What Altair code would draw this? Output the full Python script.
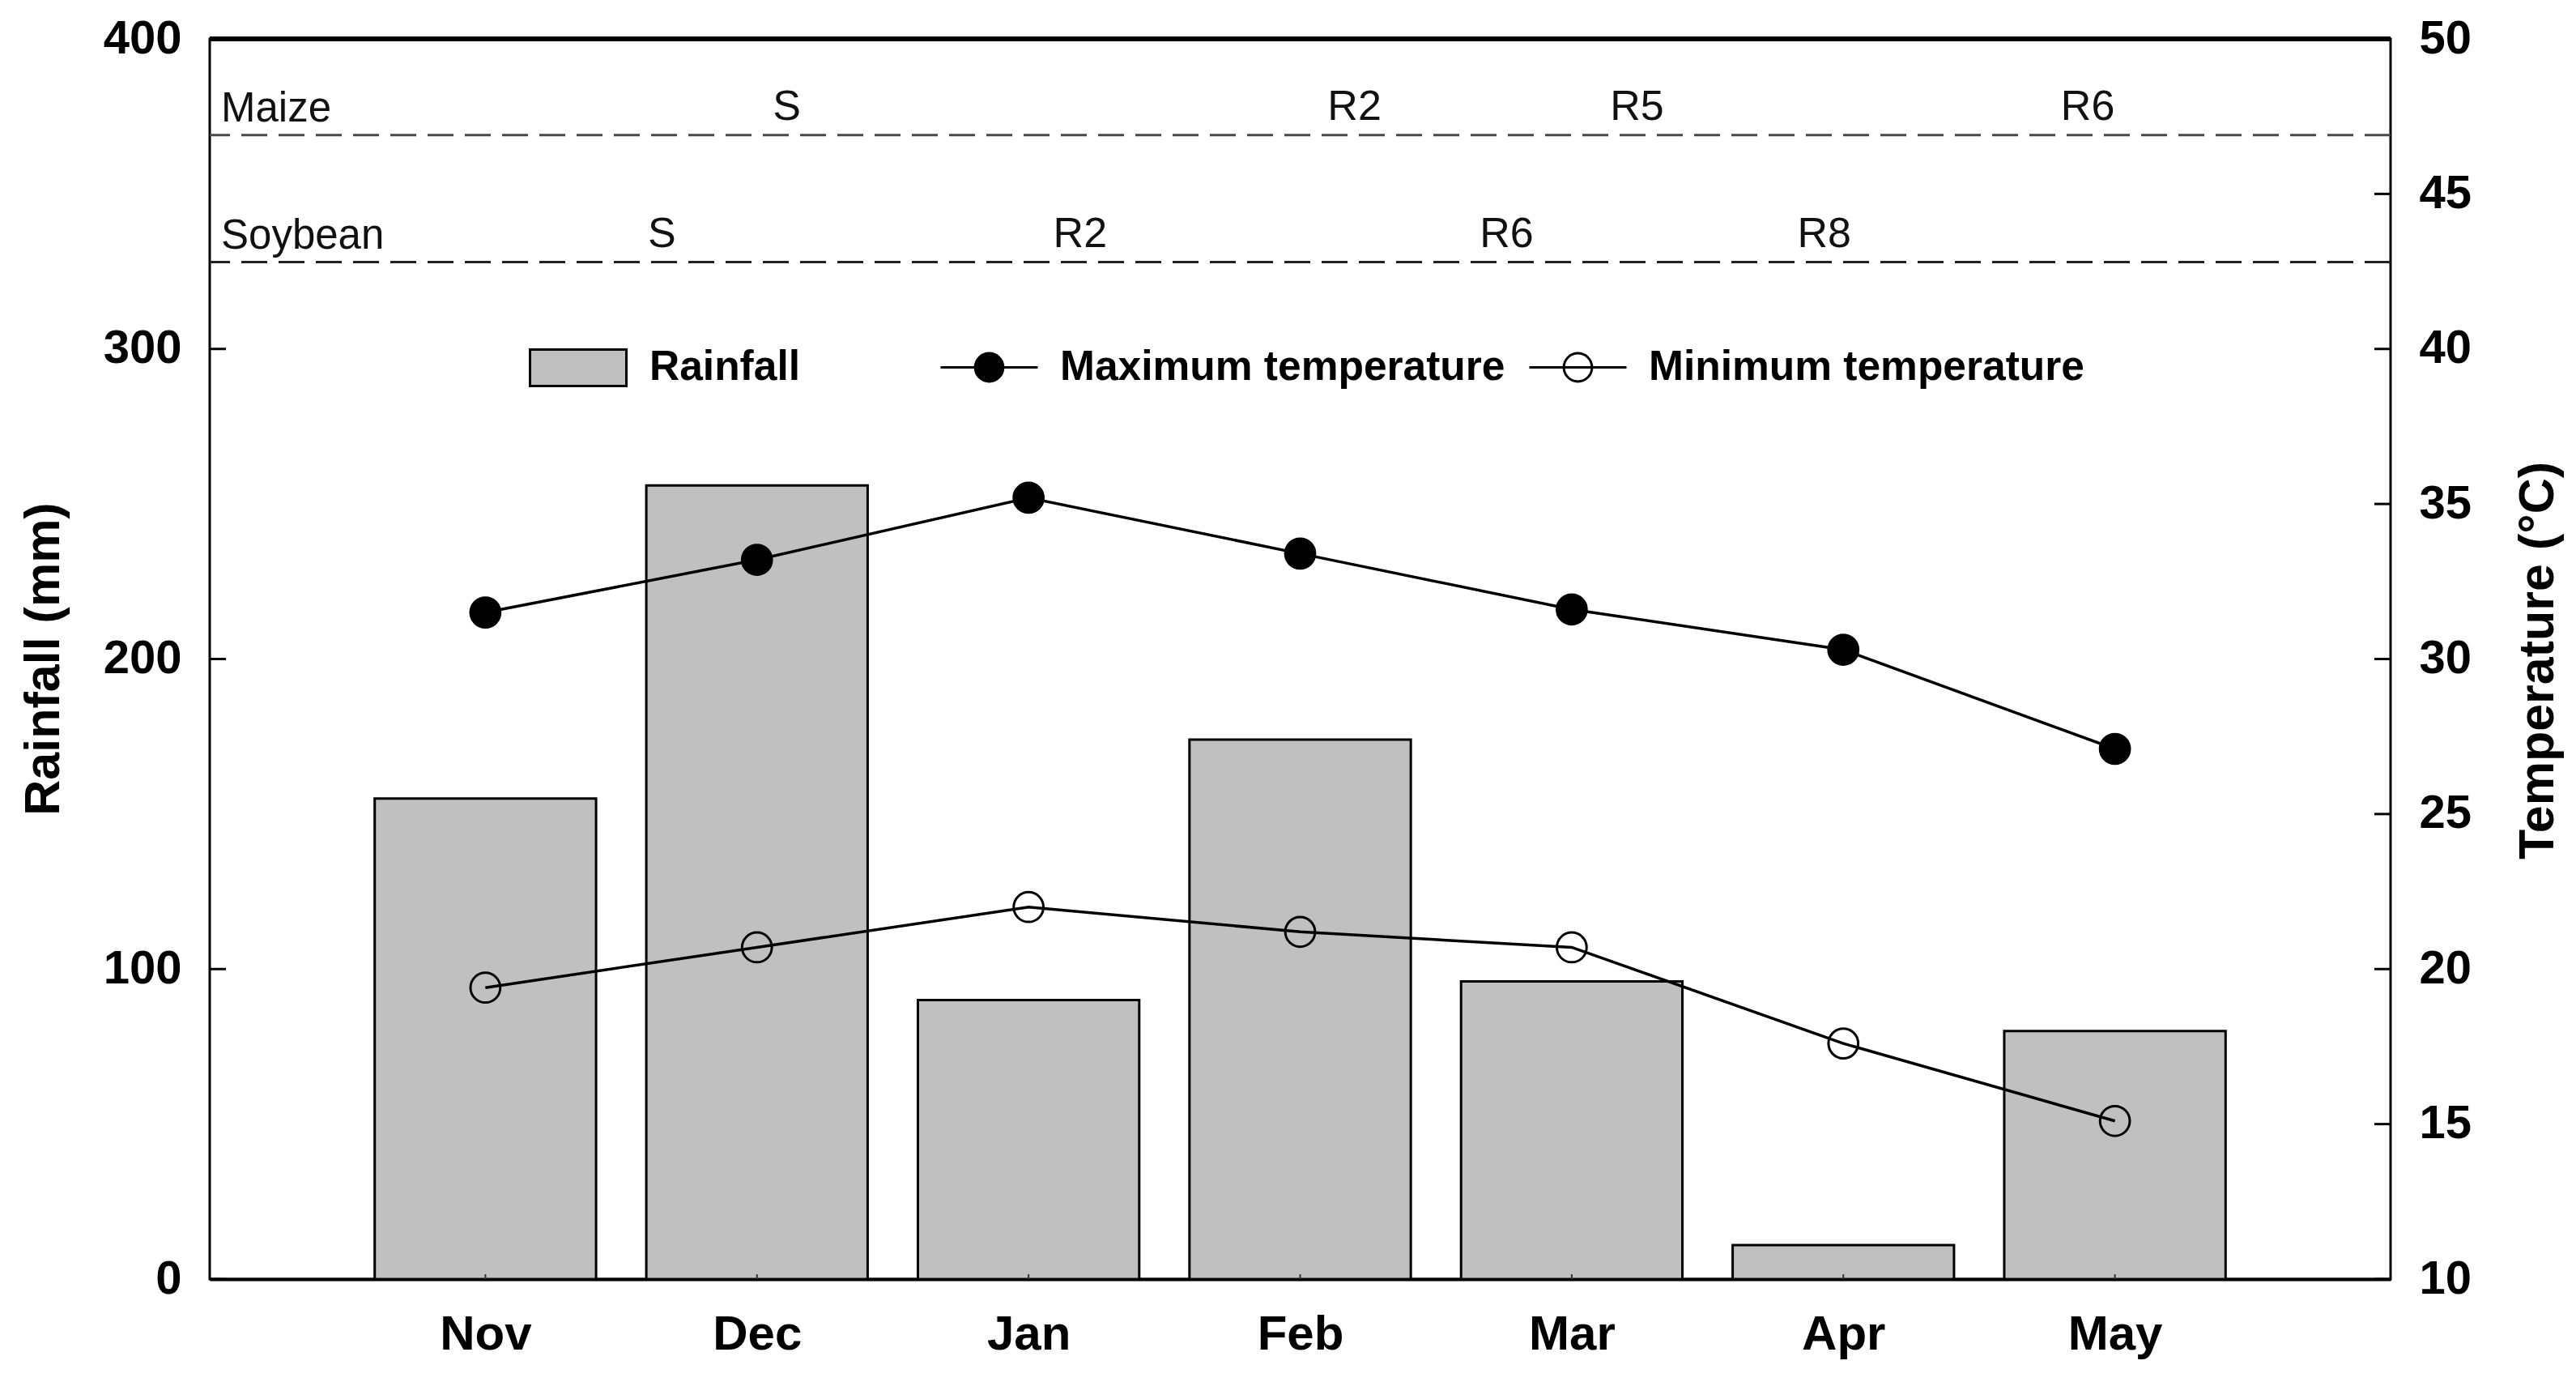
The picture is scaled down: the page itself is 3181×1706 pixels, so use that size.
import json
import altair as alt
import pandas as pd

# ---------------- data ----------------
months = ["Nov", "Dec", "Jan", "Feb", "Mar", "Apr", "May"]
month_pos = [1, 2, 3, 4, 5, 6, 7]
rainfall = [155, 256, 90, 174, 96, 11, 80]            # mm
tmax = [31.5, 33.2, 35.2, 33.4, 31.6, 30.3, 27.1]     # °C
tmin = [19.4, 20.7, 22.0, 21.2, 20.7, 17.6, 15.1]     # °C

rain_ticks = [0, 100, 200, 300, 400]
temp_ticks = [10, 15, 20, 25, 30, 35, 40, 45, 50]

crops = ["Maize", "Soybean"]
crop_level = [369, 328]                                # rainfall-axis units
maize_stages = ["S", "R2", "R5", "R6"]
maize_stage_pos = [2.11, 4.20, 5.24, 6.90]
soy_stages = ["S", "R2", "R6", "R8"]
soy_stage_pos = [1.65, 3.19, 4.76, 5.93]

series_rain = ["Rainfall"]
series_temp = ["Maximum temperature", "Minimum temperature"]

# ---------------- tables ----------------
FONT = "Liberation Sans"
bar_df = pd.DataFrame({"pos": month_pos, "month": months, "rain": rainfall,
                       "series": series_rain * len(months)})
temp_df = pd.DataFrame({
    "pos": month_pos + month_pos,
    "temp": tmax + tmin,
    "series": [series_temp[0]] * len(months) + [series_temp[1]] * len(months),
})
crop_df = pd.DataFrame({"crop": crops, "level": crop_level})
stage_df = pd.DataFrame({
    "stage": maize_stages + soy_stages,
    "pos": maize_stage_pos + soy_stage_pos,
    "level": [crop_level[0]] * len(maize_stages) + [crop_level[1]] * len(soy_stages),
})
rtick_df = pd.DataFrame({"v": rain_ticks})
ttick_df = pd.DataFrame({"v": temp_ticks})
mtick_df = pd.DataFrame({"pos": month_pos})

xscale = alt.Scale(domain=[0, 8], nice=False, zero=False)
rscale = alt.Scale(domain=[0, 400], nice=False, zero=False)
tscale = alt.Scale(domain=[10, 50], nice=False, zero=False)

label_expr = json.dumps(months) + "[datum.value - 1]"


def x_axis():
    return alt.Axis(values=month_pos, labelExpr=label_expr, ticks=False, labelPadding=39,
                    labelFontSize=60, labelFont=FONT, labelFontWeight="bold",
                    labelColor="black", labelFlush=False, domain=True,
                    domainColor="black", domainWidth=4, grid=False, title=None)


left_axis = alt.Axis(orient="left", values=rain_ticks, ticks=False, labelPadding=35,
                     labelFontSize=58, labelFont=FONT, labelFontWeight="bold",
                     labelColor="black", domain=False, grid=False, title="Rainfall (mm)",
                     titleFont=FONT, titleFontSize=61, titleFontWeight="bold",
                     titleColor="black", titleAngle=270, titleX=-187, titleY=765,
                     titleAlign="center", titleBaseline="alphabetic")
right_axis = alt.Axis(orient="right", values=temp_ticks, ticks=False, labelPadding=35,
                      labelFontSize=58, labelFont=FONT, labelFontWeight="bold",
                      labelColor="black", domain=False, grid=False,
                      title="Temperature (°C)", titleFont=FONT, titleFontSize=61,
                      titleFontWeight="bold", titleColor="black", titleAngle=270,
                      titleX=200, titleY=767, titleAlign="center",
                      titleBaseline="alphabetic")

RECT_PATH = "M-1,-0.378L1,-0.378L1,0.378L-1,0.378Z"
LINE_DOT_PATH = ("M-1,0L1,0M-0.29,0A0.29,0.29 0 1,0 0.29,0"
                 "A0.29,0.29 0 1,0 -0.29,0Z")

# ---------------- rainfall layers ----------------
bars = alt.Chart(bar_df).transform_calculate(
    x0="datum.pos - 0.4075", x1="datum.pos + 0.4075"
).mark_bar(stroke="black", strokeWidth=3, opacity=1, orient="vertical").encode(
    x=alt.X("x0:Q", scale=xscale, axis=x_axis()),
    x2="x1:Q",
    y=alt.Y("rain:Q", scale=rscale, axis=left_axis),
    y2=alt.datum(0),
    fill=alt.Fill("series:N", scale=alt.Scale(domain=series_rain, range=["#c0c0c0"]),
                  legend=alt.Legend(title=None, orient="none", legendX=394, legendY=345,
                                    symbolType=RECT_PATH, symbolSize=14161,
                                    symbolStrokeColor="black", symbolStrokeWidth=3,
                                    labelFont=FONT, labelFontSize=51.5,
                                    labelFontWeight="bold", labelColor="black",
                                    labelOffset=27, labelLimit=1000, padding=0)),
)

crop_lines = alt.Chart(crop_df).mark_rule(strokeWidth=3, strokeDash=[32, 14]).encode(
    y=alt.Y("level:Q", scale=rscale, axis=None),
    stroke=alt.Stroke("crop:N", scale=alt.Scale(domain=crops, range=["#4a4a4a", "#222222"]),
                      legend=None),
)

crop_text = alt.Chart(crop_df).mark_text(align="left", baseline="alphabetic", dy=-17,
                                         fontSize=51, font=FONT, color="#111111").encode(
    x=alt.value(14),
    y=alt.Y("level:Q", scale=rscale, axis=None),
    text="crop:N",
)

stage_text = alt.Chart(stage_df).mark_text(align="center", baseline="alphabetic", dy=-19,
                                           fontSize=52, font=FONT, color="#111111").encode(
    x=alt.X("pos:Q", scale=xscale, axis=x_axis()),
    y=alt.Y("level:Q", scale=rscale, axis=None),
    text="stage:N",
)

left_ticks = alt.Chart(rtick_df).mark_rule(strokeWidth=3, color="black").encode(
    y=alt.Y("v:Q", scale=rscale, axis=None),
    x=alt.value(0), x2=alt.value(20),
)

month_ticks = alt.Chart(mtick_df).mark_rule(strokeWidth=2, color="#333333",
                                           y2Offset=-6).encode(
    x=alt.X("pos:Q", scale=xscale, axis=x_axis()),
    y=alt.value("height"), y2=alt.value("height"),
)

top_frame = alt.Chart(mtick_df).mark_rule(strokeWidth=5, color="black").encode(
    y=alt.value(0), x=alt.value(0), x2=alt.value("width"),
)

# ---------------- temperature layers ----------------
lines = alt.Chart(temp_df).mark_line(color="black", strokeWidth=3.5).encode(
    x=alt.X("pos:Q", scale=xscale, axis=x_axis()),
    y=alt.Y("temp:Q", scale=tscale, axis=right_axis),
    detail="series:N",
)

points = alt.Chart(temp_df).mark_point(shape="circle", filled=True, size=1350,
                                       stroke="black", strokeWidth=3, opacity=1).encode(
    x=alt.X("pos:Q", scale=xscale, axis=x_axis()),
    y=alt.Y("temp:Q", scale=tscale, axis=None),
    fill=alt.Fill("series:N",
                  scale=alt.Scale(domain=series_temp, range=["black", "transparent"]),
                  legend=alt.Legend(title=None, orient="none", legendX=901, legendY=344,
                                    direction="horizontal", symbolType=LINE_DOT_PATH,
                                    symbolSize=14400, symbolStrokeColor="black",
                                    symbolStrokeWidth=3, labelFont=FONT,
                                    labelFontSize=51.5, labelFontWeight="bold",
                                    labelColor="black", labelOffset=26, labelLimit=1000,
                                    columnPadding=23, padding=0)),
)

right_ticks = alt.Chart(ttick_df).mark_rule(strokeWidth=3, color="black",
                                           x2Offset=-20).encode(
    y=alt.Y("v:Q", scale=tscale, axis=None),
    x=alt.value("width"), x2=alt.value("width"),
)

chart = alt.layer(
    bars, crop_lines, crop_text, stage_text, left_ticks, month_ticks, top_frame,
    lines, points, right_ticks,
).resolve_scale(
    y="independent", fill="independent", stroke="independent"
).properties(
    width=2693, height=1531,
    autosize=alt.AutoSizeParams(type="none"),
    padding={"left": 251, "top": 40, "right": 221, "bottom": 119},
    background="white",
).configure_view(stroke="black", strokeWidth=3)

chart.save("out.html", embed_options={"renderer": "svg", "actions": False})
